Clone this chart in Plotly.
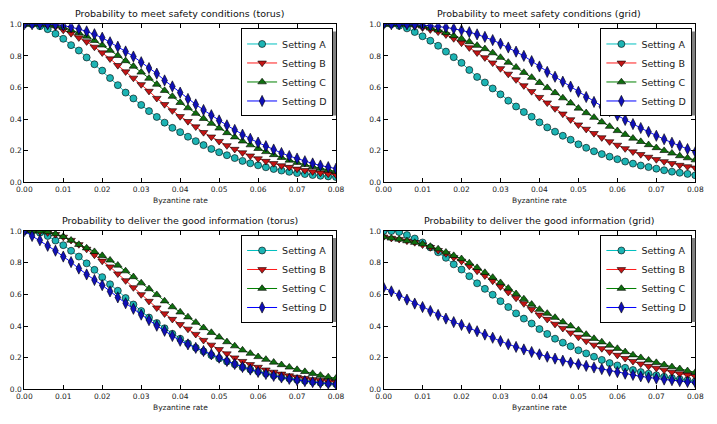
import plotly.graph_objects as go

# ---------------- data ----------------
rate = [0.000, 0.002, 0.004, 0.006, 0.008, 0.010, 0.012, 0.014, 0.016, 0.018,
        0.020, 0.022, 0.024, 0.026, 0.028, 0.030, 0.032, 0.034, 0.036, 0.038,
        0.040, 0.042, 0.044, 0.046, 0.048, 0.050, 0.052, 0.054, 0.056, 0.058,
        0.060, 0.062, 0.064, 0.066, 0.068, 0.070, 0.072, 0.074, 0.076, 0.078,
        0.080]

settings = ["Setting A", "Setting B", "Setting C", "Setting D"]

titles = ["Probability to meet safety conditions (torus)",
          "Probability to meet safety conditions (grid)",
          "Probability to deliver the good information (torus)",
          "Probability to deliver the good information (grid)"]

x_ticks = [0.00, 0.01, 0.02, 0.03, 0.04, 0.05, 0.06, 0.07, 0.08]
y_ticks = [0.0, 0.2, 0.4, 0.6, 0.8, 1.0]
x_label = "Byzantine rate"

# Safety, torus
safety_torus_A = [1.0, 1.0, 0.988, 0.969, 0.94, 0.908, 0.868, 0.834, 0.79, 0.747,
                  0.707, 0.66, 0.615, 0.568, 0.531, 0.49, 0.451, 0.414, 0.378, 0.345,
                  0.318, 0.289, 0.261, 0.236, 0.212, 0.191, 0.172, 0.154, 0.136, 0.121,
                  0.108, 0.096, 0.085, 0.075, 0.067, 0.059, 0.053, 0.047, 0.042, 0.038,
                  0.034]
safety_torus_B = [1.0, 1.0, 0.999, 0.995, 0.985, 0.963, 0.942, 0.915, 0.89, 0.856,
                  0.82, 0.782, 0.74, 0.7, 0.66, 0.619, 0.577, 0.532, 0.493, 0.454,
                  0.417, 0.386, 0.352, 0.316, 0.288, 0.26, 0.233, 0.21, 0.188, 0.168,
                  0.15, 0.134, 0.12, 0.106, 0.096, 0.085, 0.076, 0.068, 0.06, 0.054,
                  0.048]
safety_torus_C = [1.0, 1.0, 1.0, 0.998, 0.99, 0.98, 0.963, 0.946, 0.924, 0.897,
                  0.868, 0.835, 0.802, 0.769, 0.734, 0.697, 0.658, 0.62, 0.581, 0.544,
                  0.505, 0.471, 0.436, 0.404, 0.373, 0.343, 0.314, 0.287, 0.261, 0.237,
                  0.214, 0.194, 0.175, 0.157, 0.14, 0.126, 0.112, 0.1, 0.089, 0.079,
                  0.07]
safety_torus_D = [1.0, 1.0, 1.0, 1.0, 0.998, 0.992, 0.982, 0.97, 0.955, 0.937,
                  0.915, 0.886, 0.858, 0.828, 0.796, 0.76, 0.723, 0.688, 0.645, 0.607,
                  0.568, 0.528, 0.493, 0.458, 0.425, 0.392, 0.361, 0.332, 0.302, 0.276,
                  0.252, 0.229, 0.208, 0.186, 0.167, 0.151, 0.134, 0.12, 0.107, 0.097,
                  0.087]

# Safety, grid
safety_grid_A = [1.0, 1.0, 0.99, 0.974, 0.951, 0.924, 0.896, 0.864, 0.827, 0.792,
                 0.756, 0.711, 0.667, 0.632, 0.594, 0.557, 0.517, 0.48, 0.445, 0.415,
                 0.38, 0.348, 0.321, 0.295, 0.27, 0.241, 0.219, 0.197, 0.179, 0.163,
                 0.147, 0.132, 0.119, 0.107, 0.097, 0.087, 0.077, 0.068, 0.061, 0.054,
                 0.045]
safety_grid_B = [1.0, 1.0, 1.0, 0.996, 0.988, 0.978, 0.966, 0.952, 0.934, 0.91,
                 0.882, 0.852, 0.82, 0.789, 0.756, 0.72, 0.685, 0.65, 0.612, 0.575,
                 0.538, 0.503, 0.467, 0.433, 0.397, 0.364, 0.337, 0.31, 0.283, 0.258,
                 0.236, 0.214, 0.194, 0.177, 0.16, 0.145, 0.132, 0.12, 0.109, 0.1,
                 0.092]
safety_grid_C = [1.0, 1.0, 1.0, 1.0, 0.996, 0.988, 0.976, 0.963, 0.946, 0.927,
                 0.909, 0.889, 0.866, 0.845, 0.819, 0.79, 0.759, 0.728, 0.695, 0.664,
                 0.631, 0.599, 0.567, 0.534, 0.502, 0.469, 0.44, 0.411, 0.382, 0.354,
                 0.327, 0.303, 0.279, 0.258, 0.238, 0.219, 0.201, 0.185, 0.168, 0.155,
                 0.142]
safety_grid_D = [1.0, 1.0, 1.0, 0.999, 0.997, 0.995, 0.991, 0.986, 0.98, 0.972,
                 0.962, 0.95, 0.936, 0.92, 0.9, 0.877, 0.853, 0.827, 0.8, 0.767,
                 0.733, 0.699, 0.668, 0.637, 0.606, 0.573, 0.54, 0.509, 0.479, 0.451,
                 0.423, 0.395, 0.369, 0.344, 0.32, 0.295, 0.273, 0.251, 0.231, 0.211,
                 0.192]

# Delivery, torus
deliver_torus_A = [1.0, 0.997, 0.99, 0.969, 0.94, 0.911, 0.876, 0.839, 0.796, 0.755,
                   0.709, 0.664, 0.623, 0.577, 0.536, 0.495, 0.454, 0.419, 0.386, 0.351,
                   0.32, 0.29, 0.263, 0.24, 0.216, 0.195, 0.176, 0.158, 0.14, 0.126,
                   0.113, 0.1, 0.088, 0.077, 0.069, 0.061, 0.054, 0.048, 0.042, 0.038,
                   0.034]
deliver_torus_B = [1.0, 1.0, 0.997, 0.99, 0.979, 0.962, 0.942, 0.915, 0.886, 0.849,
                   0.811, 0.774, 0.73, 0.687, 0.643, 0.599, 0.557, 0.515, 0.478, 0.443,
                   0.41, 0.381, 0.348, 0.31, 0.28, 0.252, 0.225, 0.199, 0.177, 0.157,
                   0.14, 0.123, 0.109, 0.097, 0.086, 0.077, 0.069, 0.062, 0.056, 0.051,
                   0.047]
deliver_torus_C = [1.0, 1.0, 1.0, 0.995, 0.982, 0.965, 0.942, 0.915, 0.893, 0.87,
                   0.845, 0.816, 0.784, 0.748, 0.711, 0.672, 0.635, 0.598, 0.558, 0.521,
                   0.488, 0.457, 0.423, 0.389, 0.359, 0.33, 0.3, 0.274, 0.248, 0.227,
                   0.206, 0.189, 0.171, 0.155, 0.14, 0.125, 0.112, 0.1, 0.088, 0.078,
                   0.07]
deliver_torus_D = [1.0, 0.969, 0.942, 0.907, 0.876, 0.839, 0.804, 0.763, 0.726, 0.691,
                   0.658, 0.619, 0.581, 0.544, 0.509, 0.472, 0.437, 0.402, 0.37, 0.337,
                   0.307, 0.284, 0.262, 0.242, 0.221, 0.2, 0.179, 0.16, 0.141, 0.125,
                   0.11, 0.097, 0.085, 0.075, 0.066, 0.058, 0.052, 0.046, 0.04, 0.036,
                   0.032]

# Delivery, grid
deliver_grid_A = [1.0, 1.0, 0.994, 0.975, 0.953, 0.928, 0.897, 0.866, 0.831, 0.79,
                  0.757, 0.715, 0.67, 0.635, 0.598, 0.557, 0.52, 0.48, 0.447, 0.416,
                  0.381, 0.35, 0.32, 0.295, 0.272, 0.247, 0.227, 0.206, 0.186, 0.166,
                  0.151, 0.136, 0.122, 0.109, 0.099, 0.089, 0.079, 0.071, 0.064, 0.058,
                  0.05]
deliver_grid_B = [0.963, 0.955, 0.948, 0.938, 0.928, 0.913, 0.897, 0.878, 0.858, 0.833,
                  0.81, 0.779, 0.748, 0.718, 0.685, 0.649, 0.614, 0.577, 0.542, 0.505,
                  0.47, 0.443, 0.412, 0.386, 0.357, 0.33, 0.305, 0.28, 0.258, 0.237,
                  0.216, 0.196, 0.177, 0.161, 0.146, 0.134, 0.122, 0.109, 0.099, 0.091,
                  0.082]
deliver_grid_C = [0.963, 0.955, 0.948, 0.938, 0.928, 0.918, 0.903, 0.887, 0.866, 0.845,
                  0.825, 0.798, 0.769, 0.738, 0.707, 0.674, 0.639, 0.604, 0.571, 0.537,
                  0.505, 0.48, 0.454, 0.425, 0.4, 0.375, 0.347, 0.321, 0.299, 0.278,
                  0.258, 0.237, 0.217, 0.2, 0.184, 0.169, 0.155, 0.142, 0.13, 0.117,
                  0.107]
deliver_grid_D = [0.643, 0.619, 0.594, 0.567, 0.542, 0.52, 0.495, 0.47, 0.447, 0.425,
                  0.407, 0.386, 0.367, 0.346, 0.326, 0.305, 0.285, 0.268, 0.252, 0.236,
                  0.221, 0.206, 0.194, 0.181, 0.169, 0.159, 0.148, 0.138, 0.128, 0.117,
                  0.109, 0.099, 0.091, 0.082, 0.074, 0.068, 0.062, 0.058, 0.052, 0.047,
                  0.043]

panels = [
    [safety_torus_A, safety_torus_B, safety_torus_C, safety_torus_D],
    [safety_grid_A, safety_grid_B, safety_grid_C, safety_grid_D],
    [deliver_torus_A, deliver_torus_B, deliver_torus_C, deliver_torus_D],
    [deliver_grid_A, deliver_grid_B, deliver_grid_C, deliver_grid_D],
]

# ---------------- style ----------------
W, H = 717, 424
line_colors = ["#00bfbf", "#ff1a1a", "#008000", "#0000ff"]
face_colors = ["#1cb4b4", "#c41414", "#0f6e0f", "#1010b8"]
symbols = ["circle", "triangle-down", "triangle-up", "diamond-tall"]
sizes = [7, 7.5, 7.5, 8]

# plot-area rectangles in pixels (left, right, top, bottom)
boxes = [(16.7, 336.0, 20.7, 182.3),
         (384.7, 704.0, 20.7, 182.3),
         (16.7, 336.0, 232.0, 393.7),
         (384.7, 704.0, 232.0, 393.7)]
# legend anchor (right, top) in pixels, and rendered legend size
legend_anchor = [(333, 25), (701, 25), (333, 236), (701, 236)]
LEG_W, LEG_H = 92, 86

def px(xp):
    return xp / W

def py(yp):
    return 1 - yp / H

FONT = "DejaVu Sans"
fig = go.Figure()
layout = dict(
    width=W, height=H,
    margin=dict(l=0, r=0, t=0, b=0),
    paper_bgcolor="white", plot_bgcolor="white",
    font=dict(family=FONT, color="#222222"),
    annotations=[], shapes=[],
)

for p, series in enumerate(panels):
    n = p + 1
    xa = "x" if n == 1 else f"x{n}"
    ya = "y" if n == 1 else f"y{n}"
    lg = "legend" if n == 1 else f"legend{n}"
    for s, vals in enumerate(series):
        fig.add_trace(go.Scatter(
            x=rate, y=vals, xaxis=xa, yaxis=ya, name=settings[s], legend=lg,
            mode="lines+markers",
            line=dict(color=line_colors[s], width=1),
            marker=dict(symbol=symbols[s], size=sizes[s], color=face_colors[s],
                        line=dict(color="black", width=0.6)),
        ))
    l, r, t, b = boxes[p]
    axis_common = dict(showline=True, linecolor="black", linewidth=1, mirror="ticks",
                       ticks="inside", ticklen=4, tickwidth=1, tickcolor="black",
                       showgrid=False, zeroline=False,
                       tickfont=dict(size=7.5, family=FONT, color="#222222"))
    layout["xaxis" if n == 1 else f"xaxis{n}"] = dict(
        domain=[px(l), px(r)], anchor=ya, range=[0, 0.08],
        tickvals=x_ticks, tickformat=".2f", **axis_common)
    layout["yaxis" if n == 1 else f"yaxis{n}"] = dict(
        domain=[py(b), py(t)], anchor=xa, range=[0, 1],
        tickvals=y_ticks, tickformat=".1f", **axis_common)
    # title
    layout["annotations"].append(dict(
        text=titles[p], xref="paper", yref="paper",
        x=px((l + r) / 2), y=py(t - 3), xanchor="center", yanchor="bottom",
        showarrow=False, font=dict(size=9.5, family=FONT, color="#111111")))
    # x label
    layout["annotations"].append(dict(
        text=x_label, xref="paper", yref="paper",
        x=px((l + r) / 2), y=py(b + 12), xanchor="center", yanchor="top",
        showarrow=False, font=dict(size=7.5, family=FONT, color="#222222")))
    # legend with shadow
    lr, lt = legend_anchor[p]
    layout[lg] = dict(
        x=px(lr), y=py(lt), xanchor="right", yanchor="top",
        bgcolor="white", bordercolor="black", borderwidth=1,
        font=dict(size=9.5, family=FONT, color="#222222"),
        tracegroupgap=0, itemwidth=30)
    layout["shapes"].append(dict(
        type="rect", xref="paper", yref="paper",
        x0=px(lr - LEG_W + 3), x1=px(lr + 3), y0=py(lt + LEG_H + 3), y1=py(lt + 3),
        fillcolor="#808080", line=dict(width=0), layer="above"))

fig.update_layout(**layout)
fig.write_html("out.html")
